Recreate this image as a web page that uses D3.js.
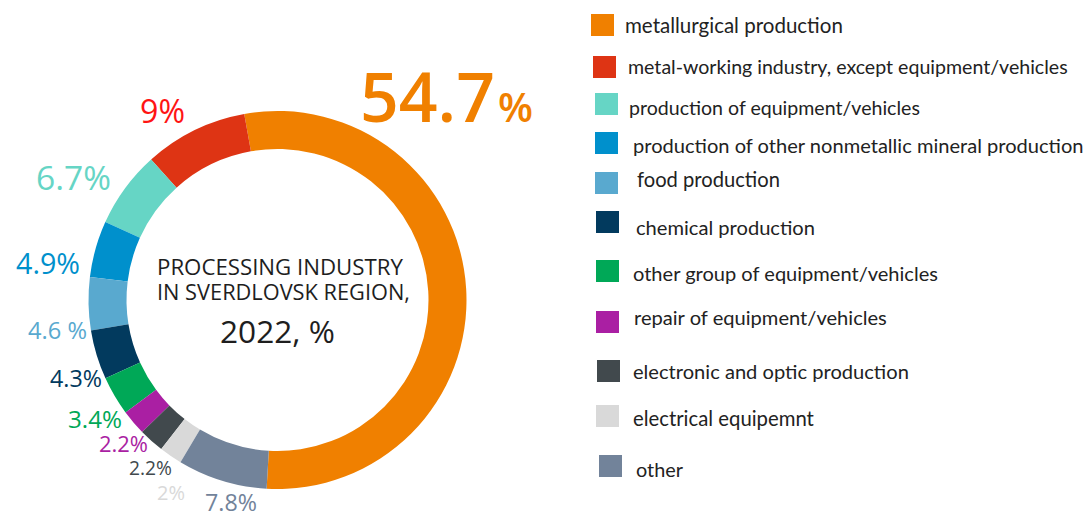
<!DOCTYPE html>
<html><head><meta charset="utf-8">
<script src="https://cdn.jsdelivr.net/npm/d3@7/dist/d3.min.js"></script>
<style>
html,body{margin:0;padding:0;background:#fff;}
svg{display:block;}
</style></head>
<body>
<svg id="chart" width="1089" height="514"></svg>
<script>
// ---- data ----
const categories = [
  "metallurgical production",
  "metal-working industry, except equipment/vehicles",
  "production of equipment/vehicles",
  "production of other nonmetallic mineral production",
  "food production",
  "chemical production",
  "other group of equipment/vehicles",
  "repair of equipment/vehicles",
  "electronic and optic production",
  "electrical equipemnt",
  "other"
];
const values = [54.7, 9, 6.7, 4.9, 4.6, 4.3, 3.4, 2.2, 2.2, 2, 7.8];
const valueLabels = ["54.7%", "9%", "6.7%", "4.9%", "4.6 %", "4.3%", "3.4%", "2.2%", "2.2%", "2%", "7.8%"];
const titleLines = ["PROCESSING INDUSTRY", "IN SVERDLOVSK REGION,", "2022, %"];

// ---- styles / layout ----
const colors = ["#f08000", "#de3414", "#66d5c5", "#0090cc", "#59a9cf", "#023a5e",
                "#00a857", "#aa1fa3", "#41494d", "#d9d9d9", "#72839a"];
const labelColors = ["#f08000", "#ff1414", "#66d5c5", "#0090cc", "#59a9cf", "#023a5e",
                "#00a857", "#aa1fa3", "#41494d", "#d9d9d9", "#72839a"];
// label layout: [left x, baseline y, width]
const labelLayout = [null, [140,123,45],[36,190,75],[16,274,64],[28,339,59],[50,387,52],
  [68,428,54],[99,452,49],[129,475,43],[157,500,28],[205,511,52]];
const legendSwatch = [[591,14],[593,56],[595,93],[595,132],[595,172],[596,211],[596,260],[596,311],[597,360],[596,405],[599,455]];
const legendText = [[625,33,218],[628,74,440],[629,115,291],[633,153,451],[637,187,143],[636,235,179],
  [633,281,305],[634,325,253],[633,379,276],[633,426,181],[636,477,47]];
const titleLayout = [[157,275,246],[157,300,253],[220,343,115]];

const svg = d3.select("#chart");
const cx = 277.5, cy = 300, rOuter = 189, rInner = 151;

function fit(sel, target){
  const node = sel.node();
  const fs = parseFloat(sel.attr("font-size"));
  const w = node.getComputedTextLength();
  if (w > 0) sel.attr("font-size", fs * target / w);
  return sel;
}

// slices run counter-clockwise from the bottom: orange covers the right half
const start = 183.3 * Math.PI / 180;
const pie = d3.pie().sort(null).value(d => d)
  .startAngle(start)
  .endAngle(start - 2 * Math.PI);
const arc = d3.arc().innerRadius(rInner).outerRadius(rOuter);

const g = svg.append("g").attr("transform", `translate(${cx},${cy})`);
g.selectAll("path").data(pie(values)).join("path")
  .attr("d", arc)
  .attr("fill", (d,i) => colors[i]);

// value labels
const font = "'Open Sans', 'DejaVu Sans', sans-serif";
const bigNum = valueLabels[0].replace("%", "");
fit(svg.append("text").attr("x", 360).attr("y", 122)
  .attr("font-family", font).attr("font-weight", 600)
  .attr("font-size", 70).attr("fill", labelColors[0]).text(bigNum), 135);
fit(svg.append("text").attr("x", 498).attr("y", 122)
  .attr("font-family", font).attr("font-weight", 600)
  .attr("font-size", 44).attr("fill", labelColors[0]).text("%"), 35);

valueLabels.forEach((t, i) => {
  if (i === 0) return;
  const L = labelLayout[i];
  fit(svg.append("text").attr("x", L[0]).attr("y", L[1])
    .attr("font-family", font).attr("font-weight", 400)
    .attr("font-size", 24).attr("fill", labelColors[i]).text(t), L[2]);
});

// center title
titleLines.forEach((t, i) => {
  const L = titleLayout[i];
  fit(svg.append("text").attr("x", L[0]).attr("y", L[1])
    .attr("font-family", font).attr("font-weight", 400)
    .attr("font-size", 22).attr("fill", "#1e1e1e").text(t), L[2]);
});

// legend
categories.forEach((c, i) => {
  const s = legendSwatch[i];
  svg.append("rect").attr("x", s[0]).attr("y", s[1]).attr("width", 23).attr("height", 22)
    .attr("fill", colors[i]);
  const T = legendText[i];
  fit(svg.append("text").attr("x", T[0]).attr("y", T[1])
    .attr("font-family", "Lato, 'Open Sans', sans-serif").attr("font-weight", 400)
    .attr("font-size", 19).attr("fill", "#222").text(c), T[2]);
});
</script>
</body></html>
